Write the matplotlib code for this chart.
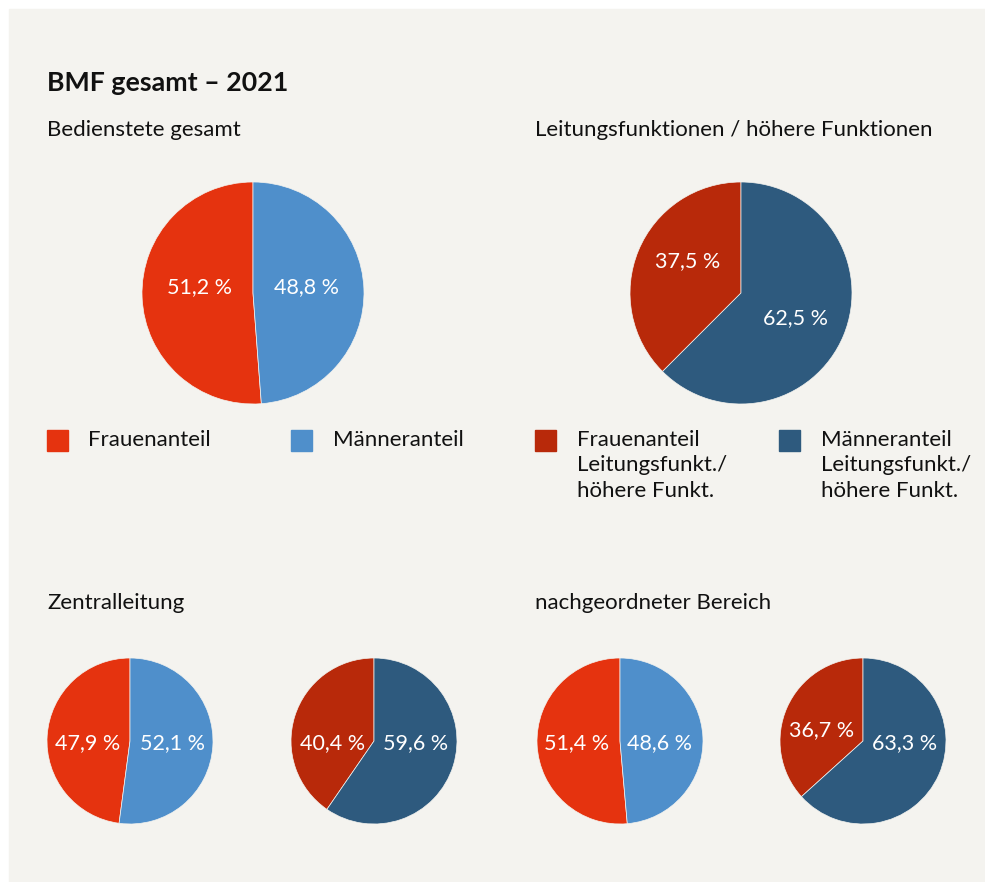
import matplotlib.pyplot as plt
from matplotlib.patches import Rectangle

plt.rcParams['font.family'] = ['Lato', 'DejaVu Sans']

W, H = 985, 882

title = "BMF gesamt – 2021"
subtitles = ["Bedienstete gesamt", "Leitungsfunktionen / höhere Funktionen",
             "Zentralleitung", "nachgeordneter Bereich"]

# shares in percent (women, men)
gesamt = [51.2, 48.8]
leitung = [37.5, 62.5]
zentral_gesamt = [47.9, 52.1]
zentral_leitung = [40.4, 59.6]
nachg_gesamt = [51.4, 48.6]
nachg_leitung = [36.7, 63.3]

legend_left = ["Frauenanteil", "Männeranteil"]
legend_right = ["Frauenanteil\nLeitungsfunkt./\nhöhere Funkt.",
                "Männeranteil\nLeitungsfunkt./\nhöhere Funkt."]

c_red = "#e5330f"
c_blue = "#4f8fcb"
c_dred = "#b8290a"
c_dblue = "#2e5a7e"
bg = "#f4f3ef"

fig = plt.figure(figsize=(W / 100, H / 100), dpi=100)
fig.patch.set_facecolor("white")
fig.patches.append(Rectangle((9 / W, 0), (W - 9) / W, 1 - 9 / H,
                             transform=fig.transFigure, color=bg, zorder=-10))


def px(x, y):
    return x / W, 1 - y / H


def pie(cx, cy, r, vals, colors, label_pos):
    ax = fig.add_axes([(cx - r) / W, 1 - (cy + r) / H, 2 * r / W, 2 * r / H])
    wedges, texts, autotexts = ax.pie(
        vals, colors=colors, startangle=90, counterclock=True,
        autopct=lambda p: f"{p:.1f} %".replace(".", ","),
        wedgeprops=dict(edgecolor=bg, linewidth=0.5),
        textprops=dict(color="white", fontsize=15.5), radius=1)
    for t, pos in zip(autotexts, label_pos):
        t.set_position(pos)
        t.set_ha("center")
        t.set_va("center")
    ax.set_xlim(-1, 1)
    ax.set_ylim(-1, 1)
    ax.set_aspect("equal")
    ax.axis("off")


pie(253, 293, 111, gesamt, [c_red, c_blue], [(-0.48, 0.05), (0.48, 0.05)])
pie(741, 293, 111, leitung, [c_dred, c_dblue], [(-0.48, 0.29), (0.49, -0.23)])
pie(130, 741, 83, zentral_gesamt, [c_red, c_blue], [(-0.51, -0.02), (0.51, -0.02)])
pie(374, 741, 83, zentral_leitung, [c_dred, c_dblue], [(-0.5, -0.02), (0.5, -0.02)])
pie(620, 741, 83, nachg_gesamt, [c_red, c_blue], [(-0.52, -0.02), (0.48, -0.02)])
pie(863, 741, 83, nachg_leitung, [c_dred, c_dblue], [(-0.5, 0.13), (0.5, -0.02)])

fig.text(*px(47, 83), title, fontsize=19.3, fontweight="bold",
         va="center", ha="left", color="#111111")
for (x, y), s in zip([(47, 130), (535, 130), (47, 603), (535, 603)], subtitles):
    fig.text(*px(x, y), s, fontsize=16, va="center", ha="left", color="#111111")

legend_items = [(47, 88, c_red, legend_left[0]), (291, 333, c_blue, legend_left[1]),
                (535, 577, c_dred, legend_right[0]), (779, 821, c_dblue, legend_right[1])]
for sx, tx, col, lab in legend_items:
    fig.patches.append(Rectangle(px(sx, 451), 21 / W, 21 / H,
                                 transform=fig.transFigure, color=col))
    fig.text(*px(tx, 430), lab, fontsize=16, va="top", ha="left",
             color="#111111", linespacing=1.33)

fig.savefig("out.png", dpi=100)
